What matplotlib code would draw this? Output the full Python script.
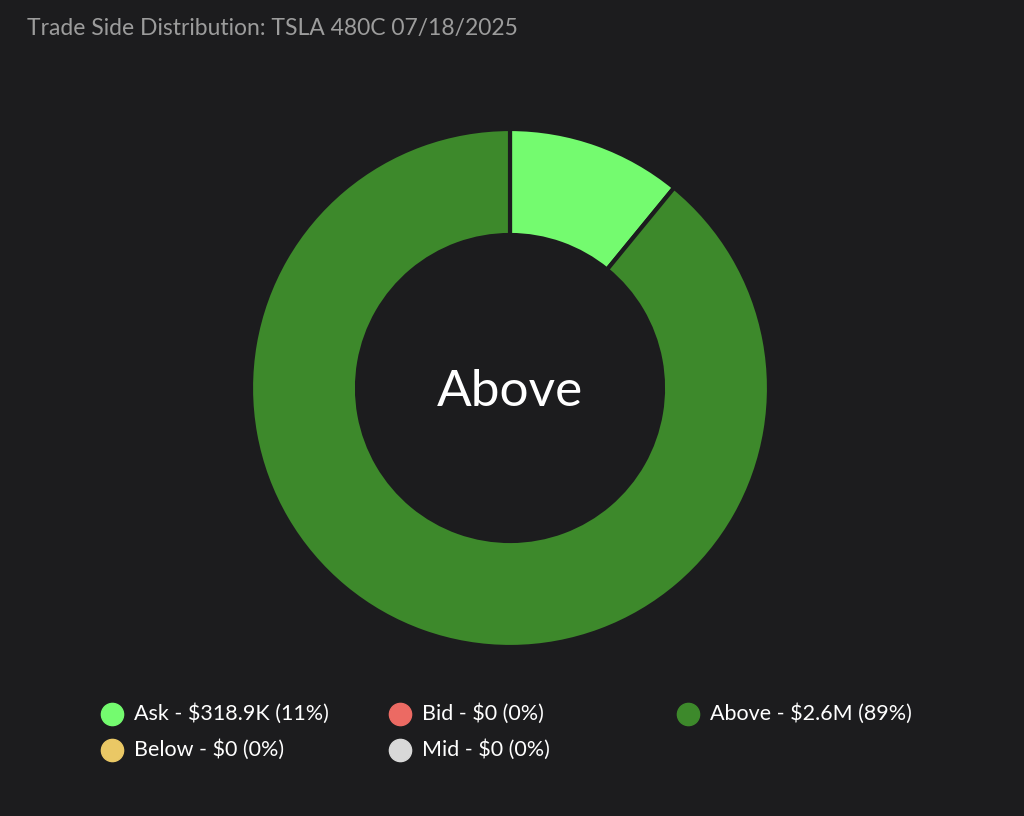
import numpy as np
import matplotlib.pyplot as plt
from matplotlib.lines import Line2D

plt.rcParams['font.family'] = ['Lato', 'DejaVu Sans']

title = "Trade Side Distribution: TSLA 480C 07/18/2025"
center_label = "Above"
names = ["Ask", "Bid", "Above", "Below", "Mid"]
values = [318900, 0, 2600000, 0, 0]
colors = ["#74fb6f", "#ec6a63", "#3d892b", "#eac865", "#d8d8d8"]

bg = "#1c1c1e"
W, H = 1024, 816


def money(v):
    if v >= 1e6:
        return f"${v/1e6:.1f}M"
    if v >= 1e3:
        return f"${v/1e3:.1f}K"
    return f"${v:.0f}"


total = sum(values)

fig = plt.figure(figsize=(W / 100, H / 100), dpi=100)
fig.patch.set_facecolor(bg)

# donut
cx, cy, r_out, r_in = 510, 388, 259, 153
ax = fig.add_axes([(cx - r_out) / W, (H - cy - r_out) / H, 2 * r_out / W, 2 * r_out / H])
ax.set_facecolor(bg)
nz = [i for i, v in enumerate(values) if v > 0]
ax.pie([values[i] for i in nz], colors=[colors[i] for i in nz], startangle=90,
       counterclock=False, radius=1,
       wedgeprops=dict(width=1 - r_in / r_out, edgecolor=bg, linewidth=3, joinstyle='round'))
ax.set_xlim(-1, 1)
ax.set_ylim(-1, 1)
ax.axis('off')
ax.text(0, -0.015, center_label, ha='center', va='center', fontsize=37, color='white')

fig.text(27 / W, 1 - 28 / H, title, ha='left', va='center', fontsize=16.5, color='#9c9c9c')

# legend
for i, (n, v, c) in enumerate(zip(names, values, colors)):
    col, row = i % 3, i // 3
    x = (112 + col * 288) / W
    y = 1 - (714 + row * 36) / H
    pct = round(v / total * 100)
    fig.add_artist(Line2D([x], [y], marker='o', markersize=16, color=c,
                          transform=fig.transFigure, linestyle='none'))
    fig.text(x + 22 / W, y, f"{n} - {money(v)} ({pct}%)", ha='left', va='center',
             fontsize=15.5, color='white')

fig.savefig("out.png", dpi=100, facecolor=bg)
